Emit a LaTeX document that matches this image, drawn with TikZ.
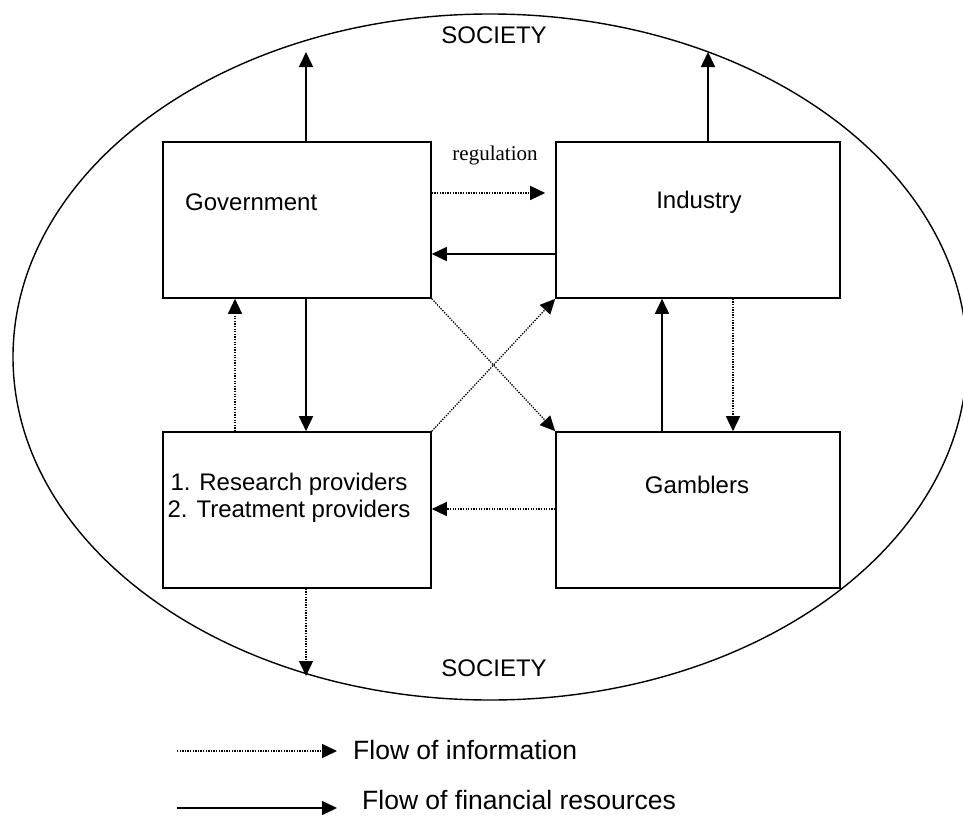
\documentclass[tikz,border=0pt]{standalone}
\usepackage{fontspec}
\setmainfont{Liberation Sans}
\newfontfamily\regfont{Liberation Serif}
\usetikzlibrary{arrows.meta,positioning,calc}

\begin{document}
\begin{tikzpicture}[x=1pt,y=-1pt,
  box/.style={draw,line width=1.6pt,minimum height=156pt,inner sep=0pt},
  txt/.style={font=\fontsize{24}{27}\selectfont,inner sep=0pt,align=center},
  legtxt/.style={font=\fontsize{26.5}{30}\selectfont,inner sep=0pt,anchor=west},
  money/.style={->,line width=1.6pt},
  info/.style={->,line width=1.3pt,dash pattern=on 1.3pt off 1.3pt},
  >={Triangle[length=15pt,width=14pt]}]
\useasboundingbox (0,0) rectangle (963,816);
\draw[line width=1.4pt] (490,357) ellipse [x radius=477pt,y radius=343pt];
\node[txt] (soctop) at (494,35) {SOCIETY};
\node[txt] (socbot) at (494,668) {SOCIETY};
\node[box,minimum width=268pt] (gov) at (297,220) {};
\node[box,minimum width=284pt] (ind) at (698,220) {};
\node[box,minimum width=268pt] (res) at (297,510) {};
\node[box,minimum width=284pt] (gam) at (698,510) {};
\node[txt,anchor=west] (govtxt) at (185,202) {Government};
\node[txt] (indtxt) at (699,202) {Industry};
\node[txt] (restxt) at (289,498) {1. Research providers\\2. Treatment providers};
\node[txt] (gamtxt) at (697,485) {Gamblers};
\node[font=\regfont\fontsize{21}{24}\selectfont,inner sep=0pt] (reg) at (495,155) {regulation};
% free ends towards society
\coordinate (govup) at (306,52);
\coordinate (indup) at (708,52);
\coordinate (resdown) at (306,676);
\draw[money] (gov.north -| govup)--(govup);
\draw[money] (ind.north -| indup)--(indup);
\draw[info] (res.south -| resdown)--(resdown);
% between the boxes
\draw[info] (gov.east |- 0,193)--([xshift=-10pt]ind.west |- 0,193);
\draw[money] (ind.west |- 0,254)--(gov.east |- 0,254);
\draw[money] (gov.south -| govup)--(res.north -| govup);
\draw[info] (res.north -| 235,0)--(gov.south -| 235,0);
\draw[money] (gam.north -| 662,0)--(ind.south -| 662,0);
\draw[info] (ind.south -| 733,0)--(gam.north -| 733,0);
\draw[info] (gam.west |- 0,509)--(res.east |- 0,509);
\draw[info] (gov.south east)--(gam.north west);
\draw[info] (res.north east)--(ind.south west);
% legend
\coordinate (infoa) at (177,751);
\coordinate (infob) at (337,751);
\coordinate (moneya) at (177,808);
\coordinate (moneyb) at (337,808);
\draw[info] (infoa)--(infob);
\draw[money] (moneya)--(moneyb);
\node[legtxt] (infotxt) at (353,750) {Flow of information};
\node[legtxt] (moneytxt) at (362,800) {Flow of financial resources};
\end{tikzpicture}
\end{document}
